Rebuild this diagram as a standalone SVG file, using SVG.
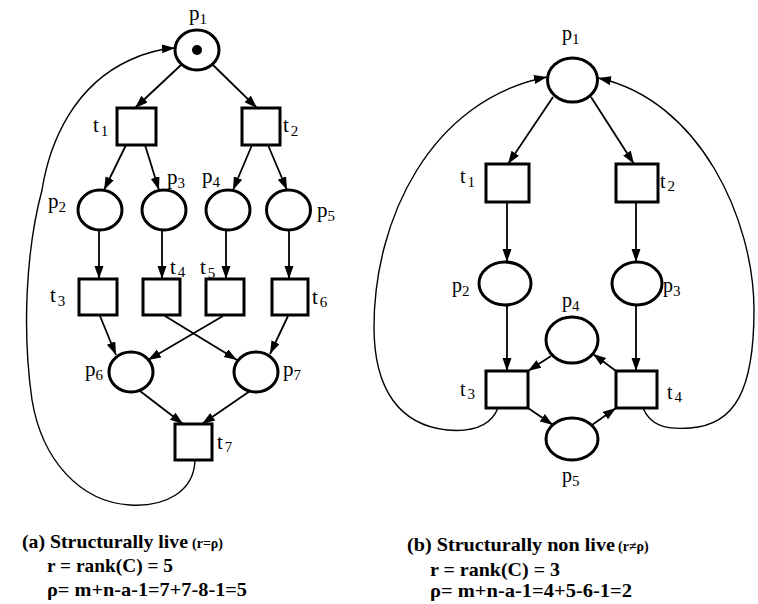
<svg xmlns="http://www.w3.org/2000/svg" width="758" height="604" viewBox="0 0 758 604">
  <defs>
    <marker id="arrow" markerUnits="userSpaceOnUse" markerWidth="14" markerHeight="10" refX="13" refY="4.5" orient="auto">
      <path d="M0,0 L13,4.5 L0,9 Z" fill="#000"/>
    </marker>
    <style>
      .place { fill: #fff; stroke: #000; stroke-width: 3; }
      .trans { fill: #fff; stroke: #000; stroke-width: 3; }
      .arc { fill: none; stroke: #000; stroke-width: 1.8; marker-end: url(#arrow); }
      .loop { fill: none; stroke: #000; stroke-width: 1.4; marker-end: url(#arrow); }
      .lbl { font-family: "Liberation Serif", "Times New Roman", serif; font-size: 21px; fill: #000; }
      .lblr { font-family: "Liberation Serif", "Times New Roman", serif; font-size: 20px; fill: #000; }
      .sub { font-size: 15px; }
      .cap { font-family: "Liberation Serif", "Times New Roman", serif; font-weight: bold; font-size: 19px; fill: #000; }
      .capsm { font-size: 14px; }
    </style>
  </defs>

  <!-- Net (a): connectors -->
  <g id="connectors-a">
    <line class="arc" x1="181" y1="65" x2="135" y2="108"/>
    <line class="arc" x1="213" y1="65" x2="257" y2="108"/>
    <line class="arc" x1="126" y1="145" x2="104" y2="190"/>
    <line class="arc" x1="145" y1="145" x2="159" y2="190"/>
    <line class="arc" x1="252" y1="145" x2="233" y2="190"/>
    <line class="arc" x1="268" y1="145" x2="287" y2="190"/>
    <line class="arc" x1="99" y1="230" x2="99" y2="279"/>
    <line class="arc" x1="162" y1="230" x2="162" y2="279"/>
    <line class="arc" x1="226" y1="230" x2="226" y2="279"/>
    <line class="arc" x1="289" y1="230" x2="289" y2="279"/>
    <line class="arc" x1="100" y1="316" x2="116" y2="355"/>
    <line class="arc" x1="165" y1="316" x2="237" y2="360"/>
    <line class="arc" x1="223" y1="316" x2="148" y2="360"/>
    <line class="arc" x1="288" y1="316" x2="270" y2="354"/>
    <line class="arc" x1="140" y1="391" x2="183" y2="424"/>
    <line class="arc" x1="250" y1="391" x2="202" y2="424"/>
    <path class="loop" d="M195,460 C194,492 165,507 130,505 C80,502 42,460 32,400 C22,330 26,250 42,190 C50,140 75,85 130,60 C145,53 160,49 175,48"/>
  </g>

  <!-- Net (a): places -->
  <g id="a-p1">
    <ellipse class="place" cx="197" cy="50" rx="22" ry="20"/>
    <circle cx="197" cy="50" r="5" fill="#000"/>
    <text class="lbl" x="189" y="20">p<tspan class="sub" dy="4">1</tspan></text>
  </g>
  <g id="a-p2">
    <ellipse class="place" cx="100" cy="210" rx="22" ry="20"/>
    <text class="lbl" x="48" y="208">p<tspan class="sub" dy="4">2</tspan></text>
  </g>
  <g id="a-p3">
    <ellipse class="place" cx="164" cy="210" rx="22" ry="20"/>
    <text class="lbl" x="167" y="184">p<tspan class="sub" dy="4">3</tspan></text>
  </g>
  <g id="a-p4">
    <ellipse class="place" cx="228" cy="210" rx="22" ry="20"/>
    <text class="lbl" x="202" y="183">p<tspan class="sub" dy="4">4</tspan></text>
  </g>
  <g id="a-p5">
    <ellipse class="place" cx="288.5" cy="210" rx="22" ry="20"/>
    <text class="lbl" x="317" y="217">p<tspan class="sub" dy="4">5</tspan></text>
  </g>
  <g id="a-p6">
    <ellipse class="place" cx="131" cy="372" rx="22" ry="20"/>
    <text class="lbl" x="85" y="376">p<tspan class="sub" dy="4">6</tspan></text>
  </g>
  <g id="a-p7">
    <ellipse class="place" cx="256" cy="372" rx="22" ry="20"/>
    <text class="lbl" x="283" y="376">p<tspan class="sub" dy="4">7</tspan></text>
  </g>

  <!-- Net (a): transitions -->
  <g id="a-t1">
    <rect class="trans" x="117" y="108" width="39" height="37"/>
    <text class="lbl" x="93" y="132">t<tspan class="sub" dx="2" dy="4">1</tspan></text>
  </g>
  <g id="a-t2">
    <rect class="trans" x="242" y="108" width="38" height="37"/>
    <text class="lbl" x="283" y="132">t<tspan class="sub" dx="2" dy="4">2</tspan></text>
  </g>
  <g id="a-t3">
    <rect class="trans" x="79" y="279" width="38" height="36"/>
    <text class="lbl" x="50" y="302">t<tspan class="sub" dx="2" dy="4">3</tspan></text>
  </g>
  <g id="a-t4">
    <rect class="trans" x="143" y="279" width="37" height="36"/>
    <text class="lbl" x="170" y="274">t<tspan class="sub" dx="2" dy="3">4</tspan></text>
  </g>
  <g id="a-t5">
    <rect class="trans" x="206" y="279" width="38" height="36"/>
    <text class="lbl" x="200" y="274">t<tspan class="sub" dx="2" dy="4">5</tspan></text>
  </g>
  <g id="a-t6">
    <rect class="trans" x="272" y="279" width="36" height="36"/>
    <text class="lbl" x="312" y="304">t<tspan class="sub" dx="2" dy="3">6</tspan></text>
  </g>
  <g id="a-t7">
    <rect class="trans" x="175" y="424" width="37" height="36"/>
    <text class="lbl" x="217" y="449">t<tspan class="sub" dx="2" dy="3">7</tspan></text>
  </g>

  <!-- Net (b): connectors -->
  <g id="connectors-b">
    <line class="arc" x1="553" y1="97" x2="508" y2="164"/>
    <line class="arc" x1="591" y1="97" x2="634" y2="164"/>
    <line class="arc" x1="507" y1="202" x2="507" y2="262"/>
    <line class="arc" x1="636" y1="202" x2="636" y2="262"/>
    <line class="arc" x1="507" y1="305" x2="507" y2="371"/>
    <line class="arc" x1="636" y1="305" x2="636" y2="371"/>
    <line class="arc" x1="551" y1="356" x2="528" y2="371"/>
    <line class="arc" x1="616" y1="371" x2="593" y2="354"/>
    <line class="arc" x1="528" y1="408" x2="553" y2="425"/>
    <line class="arc" x1="592" y1="425" x2="616" y2="408"/>
    <path class="loop" d="M498,408 C490,428 470,432 447,430 C400,425 374,390 374,327 C374,220 430,100 547,77"/>
    <path class="loop" d="M643,408 C650,425 665,430 690,428 C735,425 754,390 754,310 C754,220 700,100 598,78"/>
  </g>

  <!-- Net (b): places -->
  <g id="b-p1">
    <ellipse class="place" cx="572.5" cy="80" rx="25" ry="22"/>
    <text class="lblr" x="562" y="40">p<tspan class="sub" dy="4">1</tspan></text>
  </g>
  <g id="b-p2">
    <ellipse class="place" cx="505" cy="283.5" rx="26" ry="21.5"/>
    <text class="lblr" x="452" y="292">p<tspan class="sub" dy="4">2</tspan></text>
  </g>
  <g id="b-p3">
    <ellipse class="place" cx="637" cy="283.5" rx="25" ry="21.5"/>
    <text class="lblr" x="663" y="292">p<tspan class="sub" dy="4">3</tspan></text>
  </g>
  <g id="b-p4">
    <ellipse class="place" cx="572" cy="340" rx="26" ry="23"/>
    <text class="lblr" x="562" y="307">p<tspan class="sub" dy="4">4</tspan></text>
  </g>
  <g id="b-p5">
    <ellipse class="place" cx="572" cy="439" rx="26" ry="21"/>
    <text class="lblr" x="562" y="482">p<tspan class="sub" dy="4">5</tspan></text>
  </g>

  <!-- Net (b): transitions -->
  <g id="b-t1">
    <rect class="trans" x="486" y="164" width="43" height="38"/>
    <text class="lblr" x="460" y="183">t<tspan class="sub" dx="2" dy="4">1</tspan></text>
  </g>
  <g id="b-t2">
    <rect class="trans" x="616" y="164" width="42" height="38"/>
    <text class="lblr" x="660" y="188">t<tspan class="sub" dx="2" dy="3">2</tspan></text>
  </g>
  <g id="b-t3">
    <rect class="trans" x="486" y="371" width="42" height="37"/>
    <text class="lblr" x="460" y="396">t<tspan class="sub" dx="2" dy="3">3</tspan></text>
  </g>
  <g id="b-t4">
    <rect class="trans" x="616" y="371" width="41" height="37"/>
    <text class="lblr" x="667" y="399">t<tspan class="sub" dx="2" dy="3">4</tspan></text>
  </g>

  <!-- Captions -->
  <g id="caption-a">
    <text class="cap" x="22" y="548"><tspan textLength="166" lengthAdjust="spacingAndGlyphs">(a) Structurally live</tspan><tspan class="capsm" x="192">(r=ρ)</tspan></text>
    <text class="cap" x="47" y="572" textLength="126" lengthAdjust="spacingAndGlyphs">r = rank(C) = 5</text>
    <text class="cap" x="47" y="596" textLength="200" lengthAdjust="spacingAndGlyphs">ρ= m+n-a-1=7+7-8-1=5</text>
  </g>
  <g id="caption-b">
    <text class="cap" x="407" y="551"><tspan textLength="208" lengthAdjust="spacingAndGlyphs">(b) Structurally non live</tspan><tspan class="capsm" x="618">(r≠ρ)</tspan></text>
    <text class="cap" x="430" y="576" textLength="130" lengthAdjust="spacingAndGlyphs">r = rank(C) = 3</text>
    <text class="cap" x="430" y="597" textLength="202" lengthAdjust="spacingAndGlyphs">ρ= m+n-a-1=4+5-6-1=2</text>
  </g>
</svg>
